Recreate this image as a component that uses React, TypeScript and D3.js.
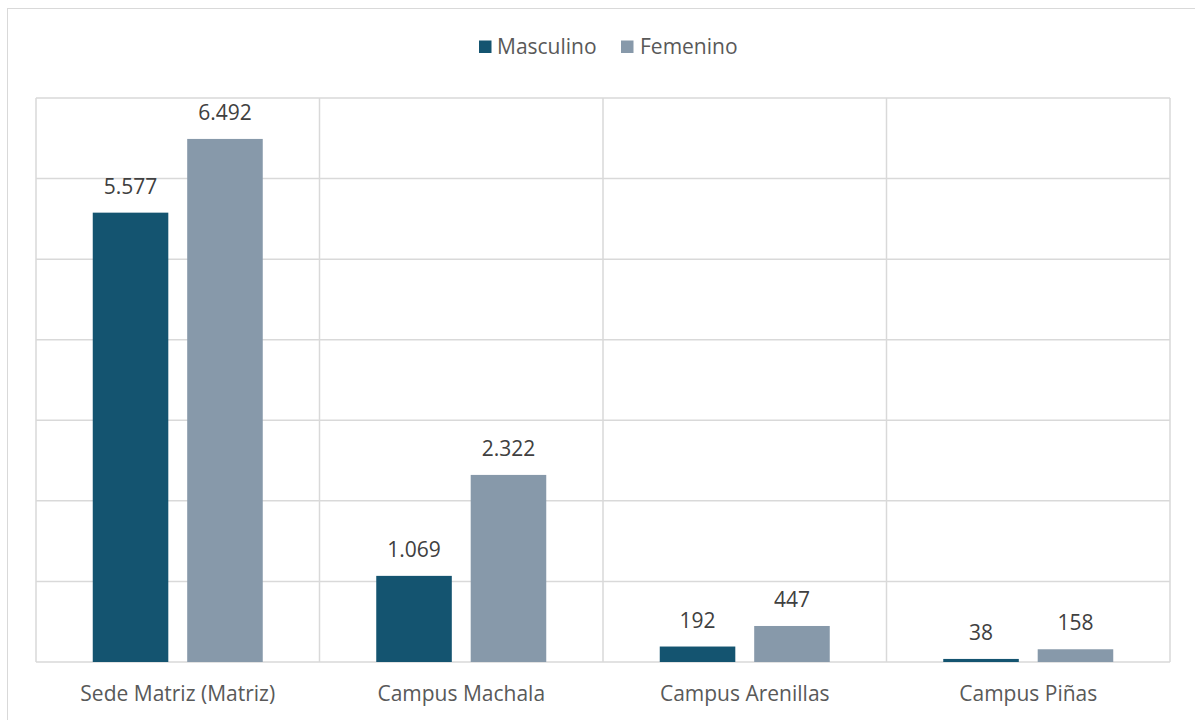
import React from "react";
import * as d3 from "d3";

const categories = ["Sede Matriz (Matriz)", "Campus Machala", "Campus Arenillas", "Campus Piñas"];
const seriesNames = ["Masculino", "Femenino"];
const masculino = [5577, 1069, 192, 38];
const femenino = [6492, 2322, 447, 158];
const yTicks = [0, 1000, 2000, 3000, 4000, 5000, 6000, 7000];
const colors = ["#145470", "#8799aa"];

const W = 1195, H = 720;
const plot = { left: 36, right: 1170, top: 98, bottom: 662 };
const fmt = (v: number) => d3.format(",")(v).replace(/,/g, ".");

export default function App() {
  const x0 = d3.scaleBand<string>().domain(categories).range([plot.left, plot.right]).paddingInner(0).paddingOuter(0);
  const x1 = d3.scaleBand<string>().domain(seriesNames).range([56.75, x0.bandwidth() - 56.75]).paddingInner(0.2);
  const y = d3.scaleLinear().domain([0, 7000]).range([plot.bottom, plot.top]);
  const seriesVals = [masculino, femenino];
  const font = "'Open Sans', 'Liberation Sans', sans-serif";
  return (
    <svg width={W} height={H} style={{ position: "absolute", left: 0, top: 0 }} fontFamily={font}>
      <rect x={0} y={0} width={W} height={H} fill="#fff" />
      <rect x={7.5} y={8.5} width={W + 10} height={H + 10} fill="none" stroke="#d9d9d9" strokeWidth={1} />
      {yTicks.map((t) => (
        <line key={t} x1={plot.left} x2={plot.right} y1={y(t)} y2={y(t)} stroke="#d9d9d9" strokeWidth={1.5} />
      ))}
      {categories.map((c) => (
        <line key={c} x1={x0(c)} x2={x0(c)} y1={plot.top} y2={plot.bottom} stroke="#d9d9d9" strokeWidth={1.5} />
      ))}
      <line x1={plot.right} x2={plot.right} y1={plot.top} y2={plot.bottom} stroke="#d9d9d9" strokeWidth={1.5} />
      {categories.map((c, i) =>
        seriesNames.map((s, j) => {
          const v = seriesVals[j][i];
          const bx = (x0(c) as number) + (x1(s) as number);
          const bw = x1.bandwidth();
          return (
            <g key={c + s}>
              <rect x={bx} y={y(v)} width={bw} height={plot.bottom - y(v)} fill={colors[j]} />
              <text x={bx + bw / 2} y={y(v) - 19} textAnchor="middle" fontSize={21} fill="#404040">
                {fmt(v)}
              </text>
            </g>
          );
        })
      )}
      {categories.map((c) => (
        <text key={c} x={(x0(c) as number) + x0.bandwidth() / 2} y={701} textAnchor="middle" fontSize={21} fill="#595959">
          {c}
        </text>
      ))}
      <g>
        <rect x={479} y={40.5} width={12.5} height={12.5} fill={colors[0]} />
        <text x={497} y={54} fontSize={21} fill="#595959">{seriesNames[0]}</text>
        <rect x={621} y={40.5} width={12.5} height={12.5} fill={colors[1]} />
        <text x={640} y={54} fontSize={21} fill="#595959">{seriesNames[1]}</text>
      </g>
    </svg>
  );
}
